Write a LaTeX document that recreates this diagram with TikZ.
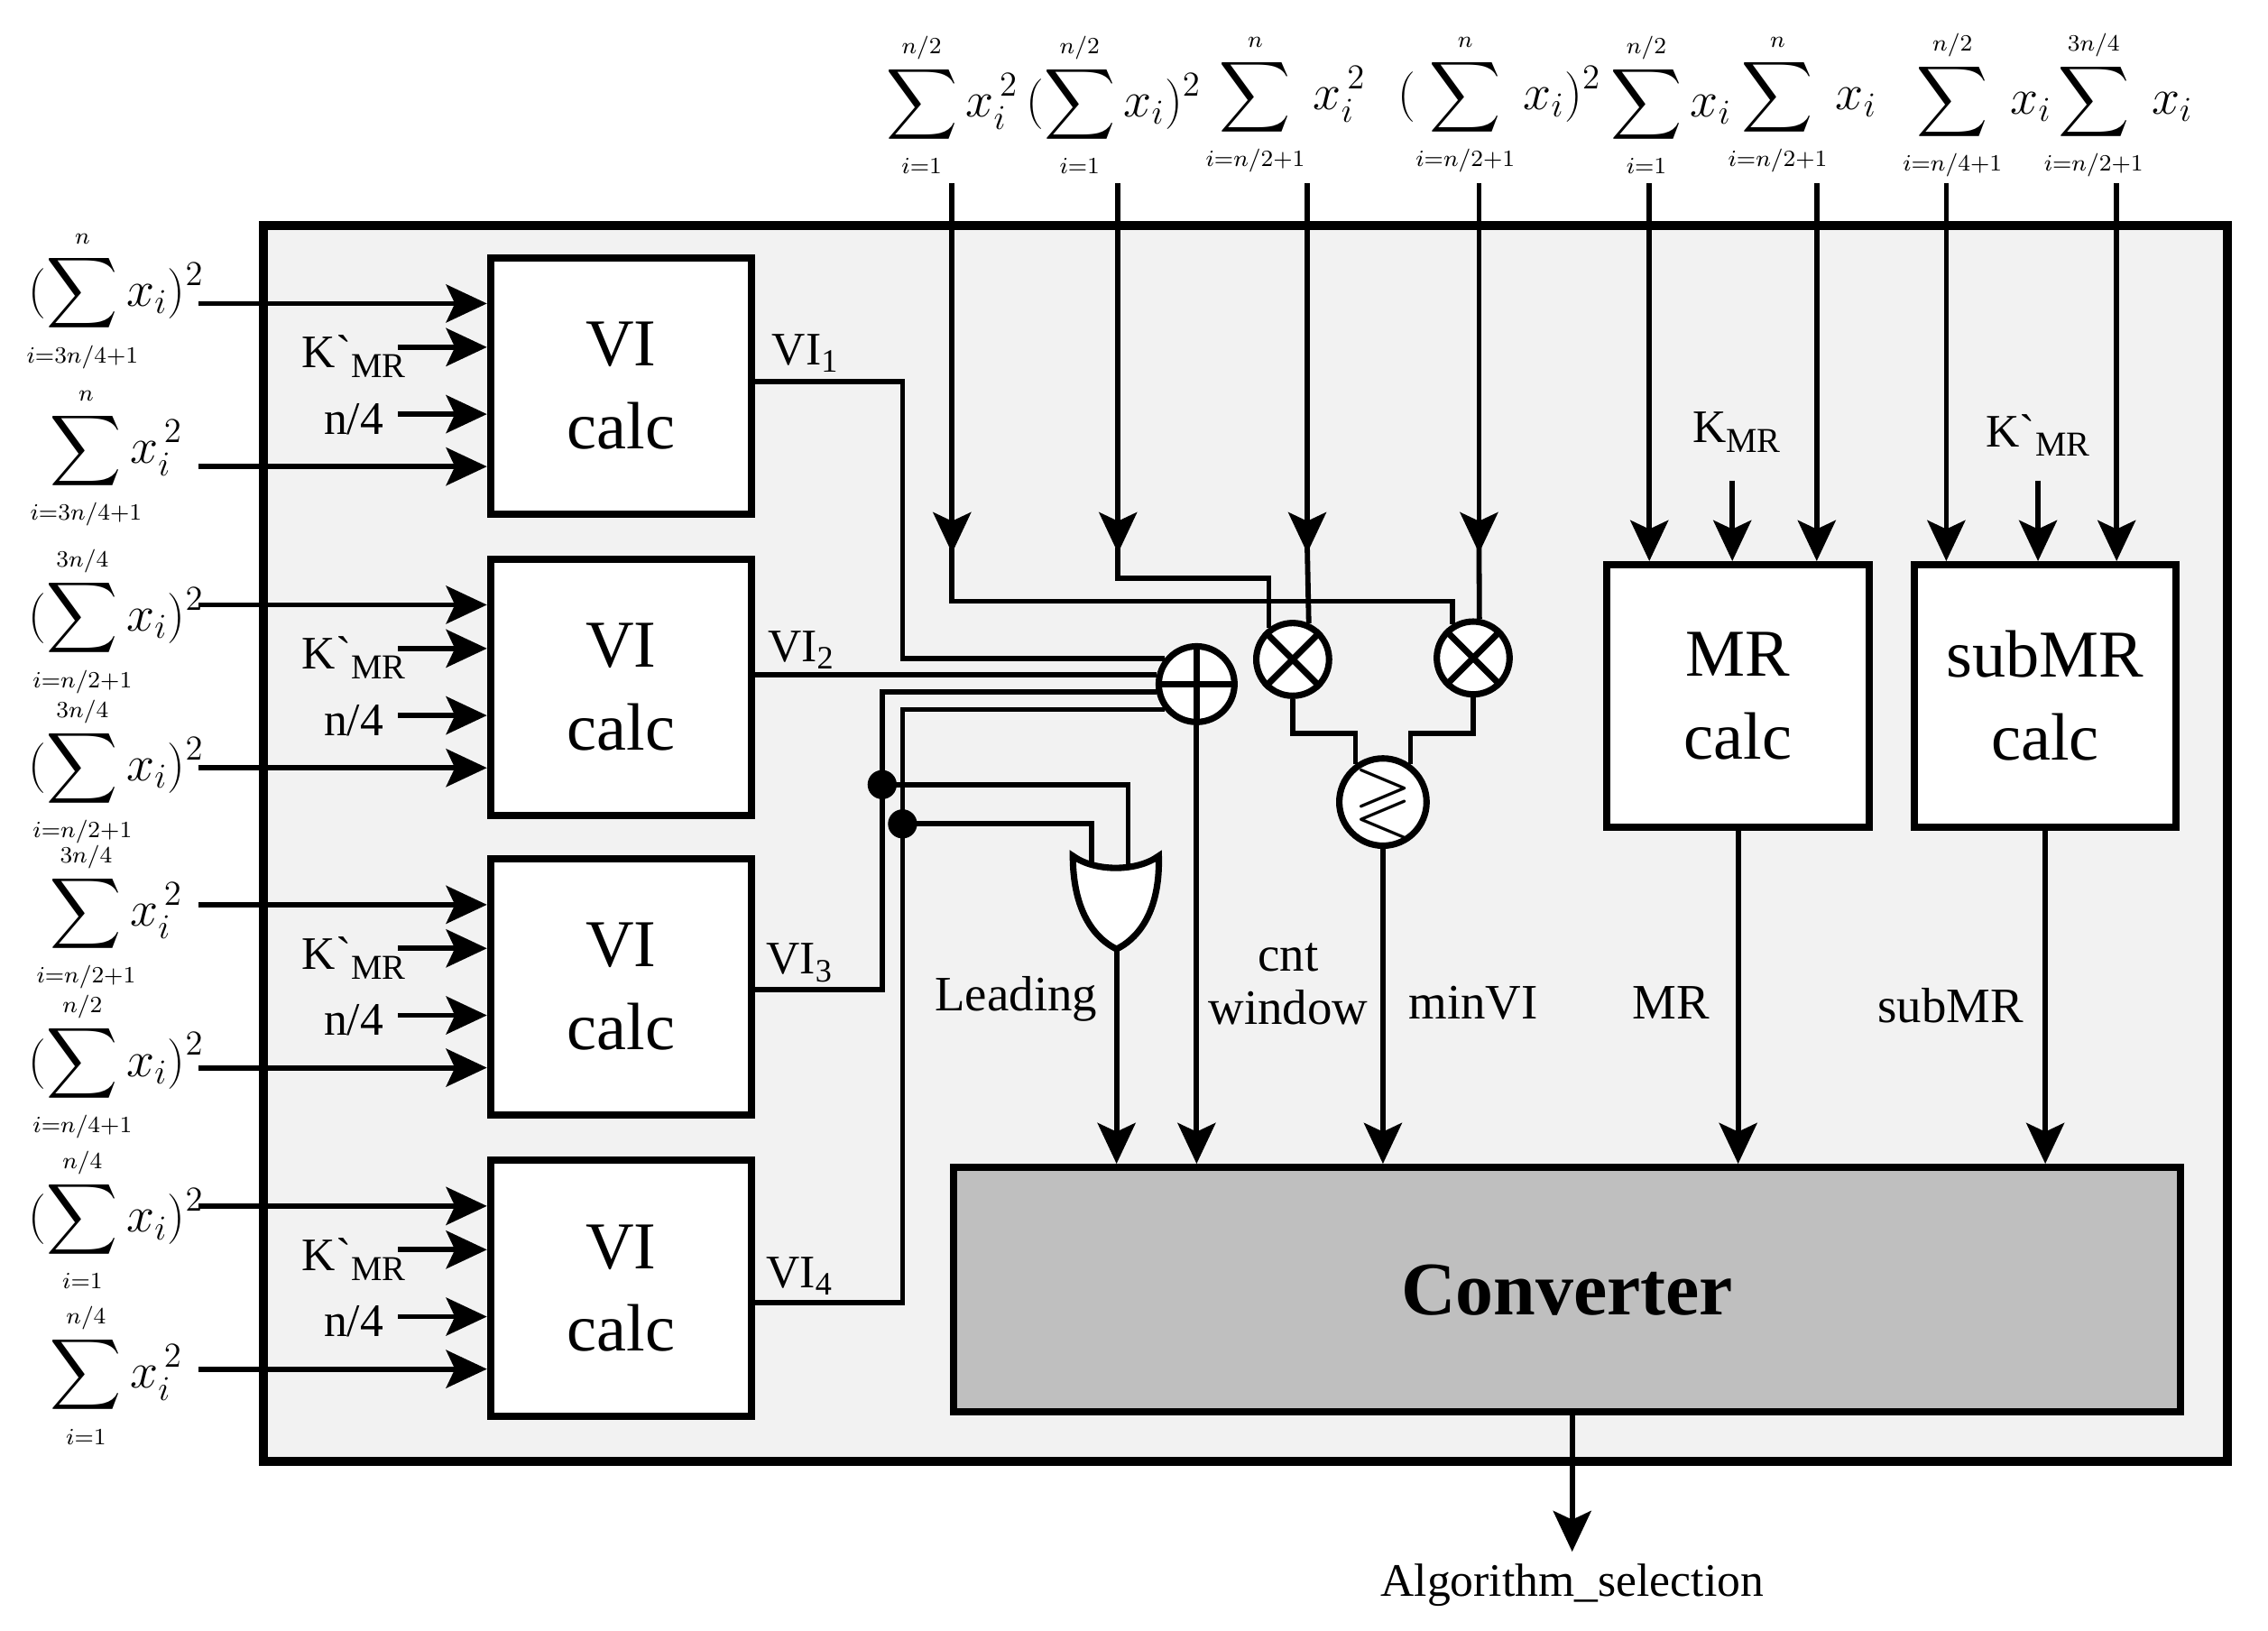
\documentclass[tikz,border=0pt]{standalone}
\usepackage{amssymb}
\usepackage{fontspec}
\setmainfont{Liberation Serif}
\usetikzlibrary{arrows.meta,calc}
\newcommand\SumL[2]{\displaystyle\sum\limits_{\makebox[0pt]{$\scriptscriptstyle #1$}}^{\makebox[0pt]{$\scriptscriptstyle #2$}}}
\newcommand\KMRp{K\textasciigrave\raisebox{-0.45ex}{\fontsize{12}{12}\selectfont MR}}
\newcommand\KMRn{K\raisebox{-0.45ex}{\fontsize{12}{12}\selectfont MR}}
\begin{document}
\begin{tikzpicture}[x=0.5pt,y=-0.5pt,
  wire/.style={line width=1.8pt},
  arr/.style={wire,-{Stealth[length=14pt,width=13pt,inset=3pt]}},
  box/.style={draw,line width=2.5pt,fill=white,inner sep=0pt,align=center,font=\fontsize{23}{28.5}\selectfont},
  op/.style={draw,circle,line width=2.2pt,fill=white,inner sep=0pt},
  lbl/.style={font=\fontsize{16}{19}\selectfont,inner sep=0pt},
  fml/.style={font=\fontsize{17}{20}\selectfont,inner sep=0pt},
  dot/.style={fill,circle,inner sep=0pt,minimum size=10pt}]
\path[use as bounding box] (0,0) rectangle (1558,1120);
\draw[line width=3pt,fill={rgb,255:red,242;green,242;blue,242}] (181,155) rectangle (1530,1004);
% VI boxes
\foreach \k/\T in {1/177,2/384,3/590,4/797}{
  \node[box,minimum width=89.5pt,minimum height=88pt] (b\k) at (426.5,\T+88) {VI\\calc};
  \draw[arr] ($(b\k.north west)+(-198,34)$) -- ($(b\k.north west)+(0,34)$);
  \draw[arr] ($(b\k.north west)+(-61,64)$) -- ($(b\k.north west)+(0,64)$);
  \draw[arr] ($(b\k.north west)+(-61,110)$) -- ($(b\k.north west)+(0,110)$);
  \draw[arr] ($(b\k.north west)+(-198,146)$) -- ($(b\k.north west)+(0,146)$);
  \node[lbl] (km\k) at (243,\T+68) {\KMRp};
  \node[lbl] (nq\k) at (243,\T+111) {n/4};
}
% left formulas
\node[fml] (f11) at (80,207) {$(\SumL{i=3n/4+1}{n} x_i)^2$};
\node[fml] (f12) at (80,315) {$\SumL{i=3n/4+1}{n} x_i^{\,2}$};
\node[fml] (f21) at (80,427) {$(\SumL{i=n/2+1}{3n/4} x_i)^2$};
\node[fml] (f22) at (80,530) {$(\SumL{i=n/2+1}{3n/4} x_i)^2$};
\node[fml] (f31) at (80,630) {$\SumL{i=n/2+1}{3n/4} x_i^{\,2}$};
\node[fml] (f32) at (80,733) {$(\SumL{i=n/4+1}{n/2} x_i)^2$};
\node[fml] (f41) at (80,838) {$(\SumL{i=1}{n/4} x_i)^2$};
\node[fml] (f42) at (80,945) {$\SumL{i=1}{n/4} x_i^{\,2}$};
% top formulas
\foreach \i/\x/\f in {1/654/{\SumL{i=1}{n/2} x_i^{\,2}},2/765/{(\SumL{i=1}{n/2} x_i)^2},3/888/{\SumL{i=n/2+1}{n}\; x_i^{\,2}},4/1030/{(\;\SumL{i=n/2+1}{n}\; x_i)^2},5/1148/{\SumL{i=1}{n/2} x_i},6/1243/{\SumL{i=n/2+1}{n}\; x_i},7/1363/{\SumL{i=n/4+1}{n/2}\; x_i},8/1460/{\SumL{i=n/2+1}{3n/4}\; x_i}}{
  \node[fml] (tf\i) at (\x,72) {$\f$};
}
\foreach \i/\x in {1/654,2/768,3/898,4/1016,5/1133,6/1248,7/1337,8/1454}{
  \coordinate (t\i) at (\x,126);
}
% operators
\node[op,minimum size=26pt] (A) at (822,470) {};
\draw[line width=2.2pt] (A.north) -- (A.south) (A.west) -- (A.east);
\node[op,minimum size=25pt] (M1) at (888,453) {};
\draw[line width=2.2pt] (M1.45) -- (M1.225) (M1.135) -- (M1.315);
\node[op,minimum size=25pt] (M2) at (1012,452) {};
\draw[line width=2.2pt] (M2.45) -- (M2.225) (M2.135) -- (M2.315);
\node[op,minimum size=29pt,font=\fontsize{26}{26}\selectfont] (C) at (950,551) {$\gtrless$};
% MR boxes and converter
\node[box,minimum width=90pt,minimum height=90pt] (MR) at (1194,478) {MR\\calc};
\node[box,minimum width=90pt,minimum height=90pt] (SM) at (1405,478) {subMR\\calc};
\node[draw,line width=2.5pt,fill={rgb,255:red,191;green,191;blue,191},minimum width=421.5pt,minimum height=84pt,inner sep=0pt,font=\fontsize{26}{26}\selectfont\bfseries] (K) at (1076.5,886) {Converter};
% top input wires
\coordinate (h1) at (0,413);
\coordinate (h2) at (0,397);
\coordinate (h5) at (0,504);
\foreach \i in {1,2,3,4}{ \draw[arr] (t\i) -- ($(t\i)+(0,254)$); }
\draw[wire] ($(t1)+(0,250)$) -- (t1 |- h1) -| (M2.122);
\draw[wire] ($(t2)+(0,250)$) -- (t2 |- h2) -| (M1.127);
\draw[wire] ($(t3)+(0,250)$) -- (M1.66);
\draw[wire] ($(t4)+(0,250)$) -- (M2.81);
\draw[arr] (t5) -- (t5 |- MR.north);
\draw[arr] (t6) -- (t6 |- MR.north);
\draw[arr] (t7) -- (t7 |- SM.north);
\draw[arr] (t8) -- (t8 |- SM.north);
\node[lbl] (kmr) at (1193,297) {\KMRn};
\node[lbl] (kmrp) at (1400,299) {\KMRp};
\coordinate (k1) at (1190,330);
\coordinate (k2) at (1400,330);
\draw[arr] (k1) -- (k1 |- MR.north);
\draw[arr] (k2) -- (k2 |- SM.north);
% multiplier outputs to comparator
\draw[wire] (M1.south) -- (M1.south |- h5) -| (C.126);
\draw[wire] (M2.south) -- (M2.south |- h5) -| (C.54);
% VI outputs to adder
\coordinate (vA) at (620,0);
\coordinate (vB) at (606,0);
\coordinate (o1) at (516,262);
\coordinate (o3) at (516,680);
\coordinate (o4) at (516,895);
\draw[wire] (o1) -- (o1 -| vA) -- (vA |- A.141) -- (A.141);
\draw[wire] (b2.east |- A.167) -- (A.167);
\draw[wire] (o3) -- (o3 -| vB) -- (vB |- A.191) -- (A.191);
\draw[wire] (o4) -- (o4 -| vA) -- (vA |- A.218) -- (A.218);
\node[lbl,anchor=south west] (vl1) at (530,256) {VI\textsubscript{1}};
\node[lbl,anchor=south west] (vl2) at (527,460) {VI\textsubscript{2}};
\node[lbl,anchor=south west] (vl3) at (526,675) {VI\textsubscript{3}};
\node[lbl,anchor=south west] (vl4) at (526,890) {VI\textsubscript{4}};
% OR gate
\coordinate (d1) at (606,539);
\coordinate (d2) at (620,566);
\coordinate (gi1) at (775,594);
\coordinate (gi2) at (750,594);
\coordinate (g) at (767,652);
\draw[wire] (d1) -| (gi1);
\draw[wire] (d2) -| (gi2);
\draw[line width=2.2pt,fill=white] (737,588) .. controls (752,599) and (781,599) .. (796,588)
  .. controls (797,622) and (785,643) .. (g) .. controls (749,643) and (737,622) .. cycle;
\node[dot] (D1) at (d1) {};
\node[dot] (D2) at (d2) {};
% down to converter
\draw[arr] (g) -- (g |- K.north);
\draw[arr] (A.south) -- (A.south |- K.north);
\draw[arr] (C.south) -- (C.south |- K.north);
\draw[arr] (MR.south) -- (MR.south |- K.north);
\draw[arr] (SM.south) -- (SM.south |- K.north);
\node[lbl,font=\fontsize{17}{20}\selectfont] (lead) at (698,686) {Leading};
\node[lbl,font=\fontsize{17}{20}\selectfont,align=center] (cnt) at (885,676) {cnt\\[-2pt]window};
\node[lbl,font=\fontsize{17}{20}\selectfont] (minvi) at (1012,689) {minVI};
\node[lbl,font=\fontsize{17}{20}\selectfont] (mrl) at (1148,689) {MR};
\node[lbl,font=\fontsize{17}{20}\selectfont] (smrl) at (1340,691) {subMR};
\coordinate (out) at (1080,1066);
\draw[arr] (K.south -| out) -- (out);
\node[lbl] (alg) at (1080,1089) {Algorithm\_selection};
\end{tikzpicture}
\end{document}
